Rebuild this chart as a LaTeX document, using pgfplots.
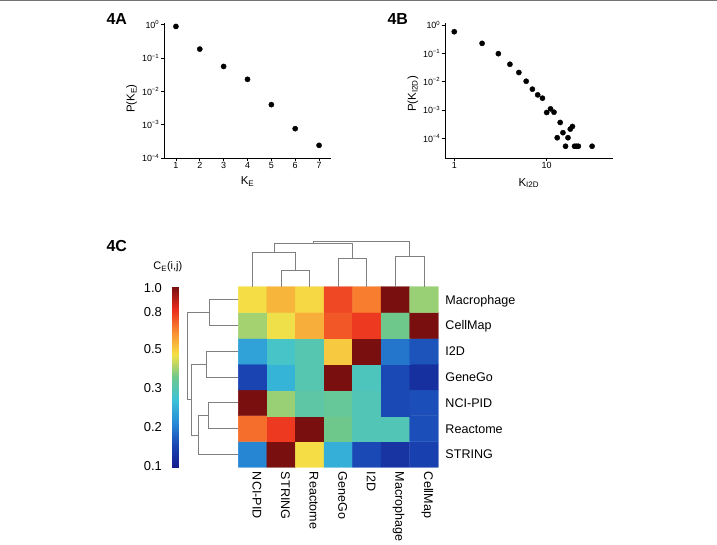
\documentclass[border=0pt]{standalone}
\usepackage{pgfplots}
\pgfplotsset{compat=1.18}
\usepackage{fontspec}
\setmainfont{Liberation Sans}
\pgfplotsset{colormap={refjet}{rgb255(0cm)=(20,30,140); rgb255(1cm)=(25,70,180); rgb255(2cm)=(40,140,215); rgb255(3cm)=(60,195,215); rgb255(4cm)=(110,200,140); rgb255(5cm)=(245,225,70); rgb255(6cm)=(250,140,50); rgb255(7cm)=(235,45,30); rgb255(8cm)=(120,15,15)}}
\pgfplotsset{
  scatterax/.style={
    scale only axis, anchor=south west, clip=false,
    /pgf/number format/assume math mode=true,
    axis lines=left, axis line style={-, line width=0.6bp, black},
    tick align=outside, major tick length=3bp, tick style={line width=0.6bp, black},
    xminorticks=false, yminorticks=false,
    tick label style={font=\fontsize{9}{9}\selectfont, inner sep=1.5bp},
    label style={font=\fontsize{11.5}{12}\selectfont},
    ytick={1e-4,1e-3,1e-2,1e-1,1},
    yticklabels={10\textsuperscript{−4},10\textsuperscript{−3},10\textsuperscript{−2},10\textsuperscript{−1},10\textsuperscript{0}},
  }
}
\begin{document}
\begin{tikzpicture}
\useasboundingbox (0,0) rectangle (717bp,545bp);
\fill[white] (0,0) rectangle (717bp,545bp);
\draw[black!55, line width=1.2bp] (0,545bp) -- (717bp,545bp);

% Panel 4A
\begin{axis}[scatterax, at={(164bp,387bp)}, width=167bp, height=135bp,
  xmin=0.5, xmax=7.5, ymode=log, ymin=1e-4, ymax=1.13,
  xtick={1,2,3,4,5,6,7}, xticklabels={1,2,3,4,5,6,7},
  xlabel={K\textsubscript{E}}, ylabel={P(K\textsubscript{E})},
  xlabel style={at={(axis description cs:0.5,-0.176)}, anchor=center},
  ylabel style={at={(axis description cs:-0.193,0.44)}, anchor=center}]
\addplot[only marks, mark=*, mark size=2.6bp, black] coordinates {
(1,0.89) (2,0.186) (3,0.056) (4,0.023) (5,0.004) (6,7.6e-4) (7,2.4e-4)};
\end{axis}

% Panel 4B
\begin{axis}[scatterax, at={(445bp,387bp)}, width=167.7bp, height=134.7bp,
  xmode=log, xmin=0.794, xmax=51.8, ymode=log, ymin=2e-5, ymax=1.15,
  xtick={1,10}, xticklabels={1,10},
  xlabel={K\textsubscript{I2D}}, ylabel={P(K\textsubscript{I2D})},
  xlabel style={at={(axis description cs:0.5,-0.186)}, anchor=center},
  ylabel style={at={(axis description cs:-0.191,0.475)}, anchor=center}]
\addplot[only marks, mark=*, mark size=2.6bp, black] coordinates {
(1,0.58) (2,0.225) (3,0.097) (4,0.041) (5,0.021) (6,0.0103) (7,0.0054) (8,0.0034) (9,0.0026)
(10,8.1e-4) (11,1.09e-3) (12,8.3e-4) (13,1.04e-4) (14,3.6e-4) (15,1.57e-4) (16,5.2e-5)
(17,1.04e-4) (18,2.1e-4) (19,2.6e-4) (20,5.2e-5) (21,5.2e-5) (22,5.2e-5) (31,5.2e-5)};
\end{axis}

% Panel 4C heatmap
\begin{axis}[at={(238.3bp,77.7bp)}, anchor=south west, scale only axis, width=200bp, height=180.6bp,
  xmin=-0.5, xmax=6.5, ymin=-0.5, ymax=6.5, clip=false,
  axis line style={draw=none}, major tick length=0pt,
  xtick={0,1,2,3,4,5,6}, xticklabels={NCI-PID,STRING,Reactome,GeneGo,I2D,Macrophage,CellMap},
  ytick={0,1,2,3,4,5,6}, yticklabels={STRING,Reactome,NCI-PID,GeneGo,I2D,CellMap,Macrophage},
  yticklabel pos=right,
  xticklabel style={rotate=-90, anchor=base west, inner sep=0pt, xshift=-4.5bp, font=\fontsize{12.6}{13}\selectfont},
  yticklabel style={anchor=base west, inner sep=0pt, yshift=-4.5bp, font=\fontsize{12.6}{13}\selectfont},
  xticklabel shift=9bp, yticklabel shift=7bp,
  colormap name=refjet, point meta min=0, point meta max=1,
  colorbar left,
  colorbar style={
    width=6.7bp, ytick={0.007,0.223,0.44,0.655,0.86,0.99}, yticklabels={0.1,0.2,0.3,0.5,0.8,1.0},
    yticklabel pos=left, major tick length=0pt, axis line style={draw=none},
    yticklabel style={font=\fontsize{13}{13}\selectfont, anchor=east, inner sep=0pt},
    yticklabel shift=10bp,
    title={C\textsubscript{E}(i,j)},
    title style={font=\fontsize{11}{11}\selectfont, at={(axis description cs:0.5,1)}, anchor=base, yshift=11bp, xshift=-7.6bp}}
  ]
\addplot[matrix plot*, mesh/cols=7, point meta=explicit] table[meta=c] {
x y c
0 0 0.24
1 0 1.0
2 0 0.63
3 0 0.33
4 0 0.13
5 0 0.07
6 0 0.11
0 1 0.79
1 1 0.86
2 1 1.0
3 1 0.50
4 1 0.43
5 1 0.43
6 1 0.14
0 2 1.0
1 2 0.54
2 2 0.46
3 2 0.48
4 2 0.43
5 2 0.13
6 2 0.14
0 3 0.12
1 3 0.34
2 3 0.44
3 3 1.0
4 3 0.42
5 3 0.13
6 3 0.06
0 4 0.30
1 4 0.40
2 4 0.44
3 4 0.66
4 4 1.0
5 4 0.21
6 4 0.15
0 5 0.55
1 5 0.62
2 5 0.70
3 5 0.82
4 5 0.86
5 5 0.50
6 5 1.0
0 6 0.63
1 6 0.69
2 6 0.64
3 6 0.84
4 6 0.77
5 6 1.0
6 6 0.54
};
% top dendrogram
\addplot[black!50, line width=0.8bp, no markers] coordinates {(1,6.5) (1,7.147) (2,7.147) (2,6.5)};
\addplot[black!50, line width=0.8bp, no markers] coordinates {(0,6.5) (0,7.833) (1.5,7.833) (1.5,7.147)};
\addplot[black!50, line width=0.8bp, no markers] coordinates {(3,6.5) (3,7.601) (4,7.601) (4,6.5)};
\addplot[black!50, line width=0.8bp, no markers] coordinates {(5,6.5) (5,7.663) (6,7.663) (6,6.5)};
\addplot[black!50, line width=0.8bp, no markers] coordinates {(0.75,7.833) (0.75,8.182) (3.5,8.182) (3.5,7.601)};
\addplot[black!50, line width=0.8bp, no markers] coordinates {(2.125,8.182) (2.125,8.271) (5.5,8.271) (5.5,7.663)};
% left dendrogram
\addplot[black!50, line width=0.8bp, no markers] coordinates {(-0.5,6) (-1.526,6) (-1.526,5) (-0.5,5)};
\addplot[black!50, line width=0.8bp, no markers] coordinates {(-0.5,4) (-1.606,4) (-1.606,3) (-0.5,3)};
\addplot[black!50, line width=0.8bp, no markers] coordinates {(-0.5,2) (-1.550,2) (-1.550,1) (-0.5,1)};
\addplot[black!50, line width=0.8bp, no markers] coordinates {(-1.550,1.5) (-1.900,1.5) (-1.900,0) (-0.5,0)};
\addplot[black!50, line width=0.8bp, no markers] coordinates {(-1.606,3.5) (-2.131,3.5) (-2.131,0.75) (-1.900,0.75)};
\addplot[black!50, line width=0.8bp, no markers] coordinates {(-1.526,5.5) (-2.271,5.5) (-2.271,2.125) (-2.131,2.125)};
\end{axis}

\node[anchor=base west, font=\fontsize{16}{16}\selectfont\bfseries] at (103bp,520bp) {4A};
\node[anchor=base west, font=\fontsize{16}{16}\selectfont\bfseries] at (384bp,520bp) {4B};
\node[anchor=base west, font=\fontsize{16}{16}\selectfont\bfseries] at (103bp,293bp) {4C};
\end{tikzpicture}
\end{document}
